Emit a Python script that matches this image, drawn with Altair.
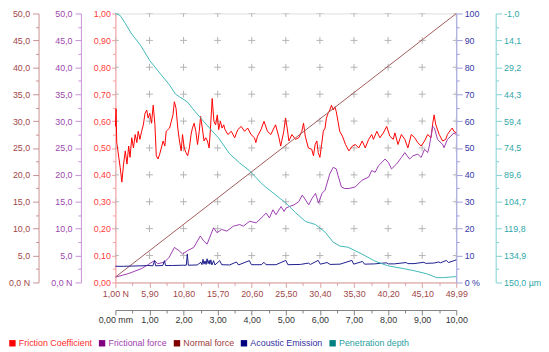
import json
import altair as alt
import pandas as pd

FONT = "Liberation Sans"

# ---- data: (sliding distance mm, value) ----
friction_coefficient = [
    (0.00, 0.58), (0.02, 0.646), (0.04, 0.52), (0.05, 0.513), (0.10, 0.465), (0.14, 0.428),
    (0.19, 0.373), (0.24, 0.44), (0.29, 0.489), (0.34, 0.44), (0.39, 0.507), (0.43, 0.465),
    (0.48, 0.538), (0.53, 0.50), (0.58, 0.55), (0.63, 0.52), (0.67, 0.562), (0.72, 0.532),
    (0.77, 0.562), (0.82, 0.586), (0.87, 0.629), (0.92, 0.641), (0.96, 0.611), (1.01, 0.629),
    (1.06, 0.592), (1.11, 0.659), (1.16, 0.586), (1.20, 0.471), (1.25, 0.459), (1.30, 0.477),
    (1.40, 0.526), (1.45, 0.507), (1.49, 0.562), (1.59, 0.574), (1.64, 0.599), (1.69, 0.623),
    (1.73, 0.672), (1.78, 0.647), (1.83, 0.574), (1.88, 0.526), (1.93, 0.489), (1.97, 0.55),
    (2.02, 0.50), (2.07, 0.483), (2.12, 0.471), (2.17, 0.50), (2.22, 0.55), (2.26, 0.574),
    (2.31, 0.592), (2.36, 0.562), (2.41, 0.513), (2.46, 0.562), (2.50, 0.617), (2.55, 0.574),
    (2.60, 0.526), (2.65, 0.538), (2.70, 0.526), (2.75, 0.50), (2.79, 0.574), (2.84, 0.684),
    (2.89, 0.599), (2.94, 0.586), (2.99, 0.623), (3.03, 0.568), (3.08, 0.599), (3.13, 0.574),
    (3.18, 0.586), (3.21, 0.57), (3.30, 0.55), (3.40, 0.562), (3.50, 0.538), (3.59, 0.568),
    (3.69, 0.58), (3.79, 0.562), (3.88, 0.574), (3.98, 0.55), (4.08, 0.538), (4.12, 0.52),
    (4.17, 0.544), (4.27, 0.568), (4.36, 0.599), (4.46, 0.562), (4.56, 0.55), (4.65, 0.574),
    (4.70, 0.586), (4.80, 0.538), (4.85, 0.507), (4.94, 0.562), (4.99, 0.611), (5.04, 0.574),
    (5.09, 0.526), (5.18, 0.55), (5.28, 0.532), (5.38, 0.538), (5.47, 0.562), (5.52, 0.592),
    (5.57, 0.544), (5.66, 0.50), (5.76, 0.495), (5.81, 0.471), (5.86, 0.513), (5.91, 0.526),
    (5.95, 0.483), (6.00, 0.465), (6.05, 0.513), (6.10, 0.562), (6.15, 0.574), (6.19, 0.611),
    (6.24, 0.629), (6.29, 0.641), (6.34, 0.659), (6.39, 0.641), (6.44, 0.653), (6.48, 0.635),
    (6.53, 0.599), (6.58, 0.562), (6.66, 0.544), (6.75, 0.513), (6.85, 0.489), (6.95, 0.507),
    (7.04, 0.513), (7.14, 0.50), (7.24, 0.526), (7.33, 0.50), (7.43, 0.532), (7.52, 0.55),
    (7.57, 0.532), (7.67, 0.562), (7.76, 0.538), (7.86, 0.556), (7.96, 0.58), (8.05, 0.544),
    (8.15, 0.532), (8.20, 0.556), (8.29, 0.513), (8.39, 0.55), (8.49, 0.532), (8.58, 0.50),
    (8.68, 0.55), (8.78, 0.538), (8.87, 0.52), (8.97, 0.507), (9.07, 0.526), (9.16, 0.55),
    (9.26, 0.538), (9.31, 0.592), (9.35, 0.623), (9.40, 0.586), (9.50, 0.55), (9.60, 0.526),
    (9.69, 0.532), (9.74, 0.55), (9.84, 0.568), (9.88, 0.574), (9.93, 0.562), (10.00, 0.556),
]

frictional_force = [
    (0.01, 1.0), (0.38, 1.64), (0.76, 2.55), (0.95, 3.28), (1.15, 4.07), (1.24, 3.47),
    (1.44, 3.78), (1.58, 4.69), (1.73, 6.51), (1.87, 5.89), (1.97, 5.29), (2.11, 5.89),
    (2.30, 6.51), (2.49, 8.63), (2.59, 7.72), (2.69, 7.12), (2.88, 10.16), (2.98, 9.25),
    (3.12, 9.85), (3.27, 9.54), (3.46, 10.46), (3.65, 10.77), (3.75, 10.46), (3.94, 11.37),
    (4.13, 11.08), (4.33, 12.28), (4.42, 12.9), (4.52, 11.99), (4.62, 13.5), (4.71, 12.59),
    (4.86, 14.11), (4.95, 13.19), (5.00, 13.81), (5.10, 14.11), (5.24, 14.42), (5.38, 15.02),
    (5.48, 16.24), (5.58, 15.33), (5.67, 14.42), (5.77, 15.64), (5.87, 16.55), (5.96, 14.73),
    (6.06, 16.55), (6.15, 17.15), (6.29, 20.2), (6.39, 21.4), (6.48, 21.1), (6.53, 19.9),
    (6.63, 17.76), (6.73, 17.46), (6.85, 17.46), (7.04, 17.76), (7.23, 18.98), (7.43, 19.58),
    (7.52, 20.8), (7.62, 20.49), (7.72, 21.71), (7.91, 22.94), (8.01, 22.32), (8.10, 21.11),
    (8.25, 22.02), (8.39, 23.23), (8.49, 24.14), (8.63, 22.94), (8.73, 23.54), (8.87, 23.85),
    (8.97, 23.23), (9.07, 24.76), (9.16, 24.14), (9.21, 25.36), (9.31, 29.01), (9.36, 28.7),
    (9.45, 26.59), (9.60, 25.67), (9.64, 25.05), (9.74, 26.59), (9.84, 27.19), (9.93, 27.79),
    (10.00, 27.5),
]

normal_force = [(1.00, 1.00), (49.99, 49.99)]  # (load N on top axis, load N)

acoustic_emission = [
    (0.00, 6.0), (0.23, 6.0), (0.52, 6.1), (0.81, 6.2), (0.95, 6.3), (1.10, 6.2), (1.15, 8.1),
    (1.18, 6.2), (1.39, 6.3), (1.44, 8.1), (1.47, 6.3), (1.68, 6.3), (1.97, 6.4), (2.08, 6.4),
    (2.11, 10.6), (2.14, 6.4), (2.40, 6.5), (2.51, 7.5), (2.54, 6.6), (2.57, 8.6), (2.60, 6.8),
    (2.63, 8.0), (2.66, 6.7), (2.69, 8.8), (2.72, 7.0), (2.75, 8.2), (2.77, 6.8), (2.80, 8.4),
    (2.83, 6.5), (2.88, 8.1), (2.92, 6.5), (3.06, 8.1), (3.12, 6.6), (3.35, 6.5), (3.55, 7.6),
    (3.61, 6.5), (3.93, 8.1), (3.99, 6.6), (4.28, 6.6), (4.36, 7.5), (4.42, 6.6), (4.71, 6.6),
    (5.00, 8.2), (5.06, 6.6), (5.43, 6.7), (5.66, 7.2), (5.72, 6.7), (5.95, 8.2), (6.01, 6.8),
    (6.21, 7.4), (6.30, 6.7), (6.59, 6.8), (6.94, 8.2), (6.99, 6.8), (7.25, 7.8), (7.31, 6.8),
    (7.60, 6.9), (7.95, 7.3), (8.01, 6.9), (8.18, 6.9), (8.53, 7.4), (8.58, 7.0), (8.76, 7.0),
    (9.05, 7.5), (9.10, 7.1), (9.34, 7.2), (9.48, 7.6), (9.54, 7.3), (9.71, 8.2), (9.77, 7.4),
    (9.91, 8.0), (10.00, 8.4),
]

penetration_depth = [
    (0.00, -1.0), (0.14, 0.1), (0.29, 4.5), (0.46, 10.0), (0.75, 17.2), (1.01, 25.5),
    (1.24, 31.0), (1.59, 39.2), (1.76, 44.2), (1.88, 45.8), (2.11, 48.6), (2.34, 54.1),
    (2.54, 58.5), (2.77, 63.5), (3.03, 69.0), (3.35, 77.8), (3.64, 82.8), (3.93, 87.2),
    (4.34, 95.4), (4.71, 101.0), (5.00, 105.4), (5.29, 110.9), (5.58, 115.8), (5.87, 117.5),
    (6.16, 121.9), (6.39, 127.4), (6.59, 129.6), (6.82, 130.2), (7.23, 134.0), (7.60, 137.9),
    (7.98, 140.6), (8.47, 142.3), (8.76, 143.4), (9.13, 145.1), (9.42, 147.3), (9.62, 147.3),
    (10.00, 146.7),
]

series_names = ["Friction Coefficient", "Frictional force", "Normal force",
                "Acoustic Emission", "Penetration depth"]
legend_colors = ["#ff0000", "#800080", "#800000", "#000080", "#008080"]
legend_text_colors = ["#ff2a2a", "#a040b0", "#a03c3c", "#3030a0", "#2aa0a0"]
line_colors = ["#ff0000", "#9c3cb0", "#a05a5a", "#1c1c8c", "#40b8b8"]

# tick labels (major ticks)
mm_major = [0.0, 1.0, 2.0, 3.0, 4.0, 5.0, 6.0, 7.0, 8.0, 9.0, 10.0]
n_major = [1.00, 5.90, 10.80, 15.70, 20.60, 25.50, 30.40, 35.30, 40.20, 45.10, 49.99]
mu_major = [0.0, 0.1, 0.2, 0.3, 0.4, 0.5, 0.6, 0.7, 0.8, 0.9, 1.0]
force_major = [0.0, 5.0, 10.0, 15.0, 20.0, 25.0, 30.0, 35.0, 40.0, 45.0, 50.0]
ae_major = [0, 10, 20, 30, 40, 50, 60, 70, 80, 90, 100]
depth_major = [-1.0, 14.1, 29.2, 44.3, 59.4, 74.5, 89.6, 104.7, 119.8, 134.9, 150.0]


def with_minor(major):
    vals = []
    for a, b in zip(major[:-1], major[1:]):
        vals += [a, (a + b) / 2]
    vals.append(major[-1])
    return vals


def make_axis(major, orient, label_expr, label_color, line_color, offset=0,
              tick=6, minor_tick=3, pad=3):
    maj = json.dumps(major)
    minor_test = f"indexof({maj}, datum.value) < 0"
    return alt.Axis(
        orient=orient, offset=offset, values=with_minor(major), title=None,
        labelExpr=f"{minor_test} ? '' : " + label_expr,
        labelColor=label_color, labelFont=FONT, labelFontSize=9, labelPadding=pad,
        labelOverlap=False, labelFlush=False, labelBound=False,
        domainColor=line_color, tickColor=line_color, domainWidth=1, tickWidth=1,
        tickSize={"condition": {"test": minor_test, "value": minor_tick}, "value": tick},
        grid=False,
    )


def sc(domain, reverse=False):
    if reverse:
        return alt.Scale(domain=domain, nice=False, zero=False, reverse=True)
    return alt.Scale(domain=domain, nice=False, zero=False)


def frame(pairs):
    return pd.DataFrame(pairs, columns=["x", "y"])


mm_axis = make_axis(mm_major, "bottom",
                    "replace(format(datum.value, '.2f'), '.', ',') + (datum.value == 0 ? ' mm' : '')",
                    "#333333", "#808080", offset=28, tick=5, minor_tick=3, pad=1)
n_axis = make_axis(n_major, "bottom",
                   "replace(format(datum.value, '.2f'), '.', ',') + (datum.value == 1 ? ' N' : '')",
                   "#a04848", "#e09c9c", offset=0, tick=5, minor_tick=3, pad=2)
mu_axis = make_axis(mu_major, "left", "replace(format(datum.value, '.2f'), '.', ',')",
                    "#ff3b3b", "#ff9d9d", offset=0, tick=4, minor_tick=3, pad=1)
ff_axis = make_axis(force_major, "left",
                    "replace(format(datum.value, '.1f'), '.', ',') + (datum.value == 0 ? ' N' : '')",
                    "#9c48ac", "#c890d8", offset=35)
nf_axis = make_axis(force_major, "left",
                    "replace(format(datum.value, '.1f'), '.', ',') + (datum.value == 0 ? ' N' : '')",
                    "#a04848", "#c89090", offset=78)
ae_axis = make_axis(ae_major, "right",
                    "format(datum.value, 'd') + (datum.value == 0 ? ' %' : '')",
                    "#3838a8", "#a0a0e0", offset=0, tick=6, pad=2)
pd_axis = make_axis(depth_major, "right",
                    "replace(replace(format(datum.value, '.1f'), '.', ','), '\u2212', '-') + (datum.value == 150 ? ' \u00b5m' : '')",
                    "#30a8a8", "#80d0d0", offset=40, tick=6, pad=2)

grid_df = pd.DataFrame([(x, y) for x in mm_major for y in mu_major if y > 0], columns=["x", "y"])
grid = alt.Chart(grid_df).mark_point(
    shape="M-1,0L1,0M0,-1L0,1", size=49, filled=False, color="#b4b4b4",
    strokeWidth=1, opacity=1, clip=True,
).encode(
    x=alt.X("x:Q", scale=sc([0, 10]), axis=None),
    y=alt.Y("y:Q", scale=sc([0, 1]), axis=None),
)

fc_layer = alt.Chart(frame(friction_coefficient)).mark_line(color=line_colors[0], strokeWidth=1).encode(
    x=alt.X("x:Q", scale=sc([0, 10]), axis=mm_axis),
    y=alt.Y("y:Q", scale=sc([0, 1]), axis=mu_axis),
)
ff_layer = alt.Chart(frame(frictional_force)).mark_line(color=line_colors[1], strokeWidth=1).encode(
    x=alt.X("x:Q", scale=sc([0, 10]), axis=None),
    y=alt.Y("y:Q", scale=sc([0, 50]), axis=ff_axis),
)
nf_layer = alt.Chart(frame(normal_force)).mark_line(color=line_colors[2], strokeWidth=1).encode(
    x=alt.X("x:Q", scale=sc([1.0, 49.99]), axis=n_axis),
    y=alt.Y("y:Q", scale=sc([0, 50]), axis=nf_axis),
)
ae_layer = alt.Chart(frame(acoustic_emission)).mark_line(color=line_colors[3], strokeWidth=1).encode(
    x=alt.X("x:Q", scale=sc([0, 10]), axis=None),
    y=alt.Y("y:Q", scale=sc([0, 100]), axis=ae_axis),
)
pd_layer = alt.Chart(frame(penetration_depth)).mark_line(color=line_colors[4], strokeWidth=1).encode(
    x=alt.X("x:Q", scale=sc([0, 10]), axis=None),
    y=alt.Y("y:Q", scale=sc([-1, 150], reverse=True), axis=pd_axis),
)

label_color_expr = " : ".join(
    f"datum.label == '{n}' ? '{c}'" for n, c in zip(series_names, legend_text_colors)
) + " : '#333333'"

legend_layer = alt.Chart(pd.DataFrame({"series": series_names})).mark_square(opacity=0).encode(
    color=alt.Color(
        "series:N",
        scale=alt.Scale(domain=series_names, range=legend_colors),
        legend=alt.Legend(
            title=None, orient="none", legendX=-109, legendY=330, direction="horizontal",
            symbolType="square", symbolSize=42, symbolStrokeWidth=0, symbolOpacity=1,
            labelFont=FONT, labelFontSize=9, labelOffset=2, columnPadding=5, padding=0,
            labelLimit=300, labelColor=alt.ExprRef(expr=label_color_expr),
        ),
    )
)

chart = alt.layer(
    grid, fc_layer, ff_layer, nf_layer, ae_layer, pd_layer, legend_layer
).resolve_scale(
    x="independent", y="independent"
).properties(
    width=346, height=273,
    autosize=alt.AutoSizeParams(type="none"),
    padding={"left": 109, "top": 3, "right": 86, "bottom": 66},
    background="white",
).configure_view(stroke=None).configure(font=FONT)

chart.save("out.html", embed_options={"renderer": "svg", "actions": False})
